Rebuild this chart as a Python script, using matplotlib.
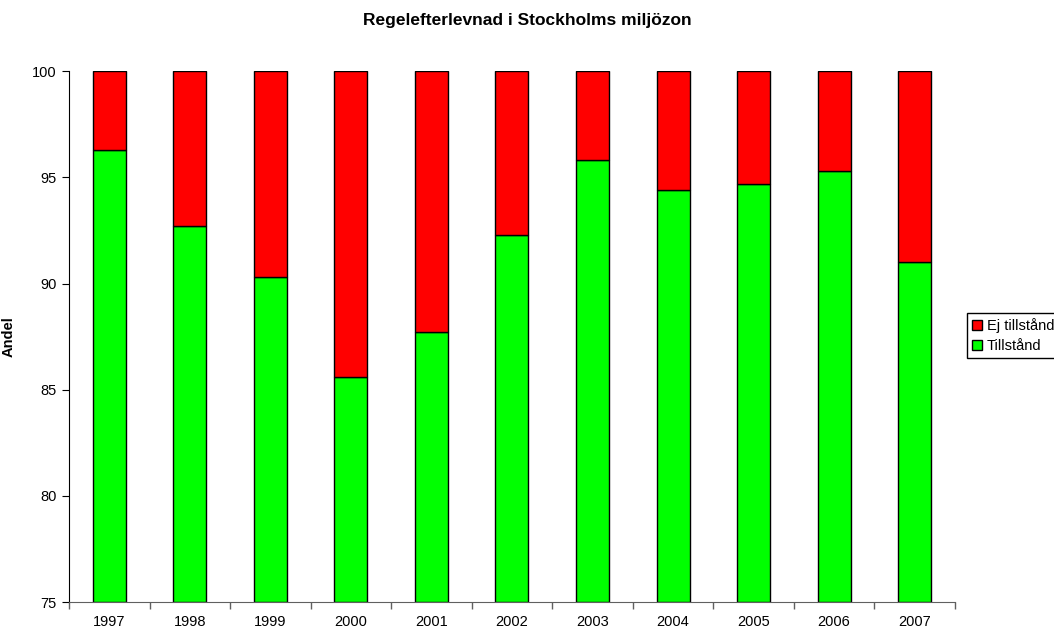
import numpy as np
import matplotlib.pyplot as plt

plt.rcParams['font.family'] = ['Liberation Sans', 'DejaVu Sans']

years = ['1997', '1998', '1999', '2000', '2001', '2002', '2003', '2004', '2005', '2006', '2007']
tillstand = [96.3, 92.7, 90.3, 85.6, 87.7, 92.3, 95.8, 94.4, 94.7, 95.3, 91.0]
ej_tillstand = [100 - v for v in tillstand]

base = 75
x = np.arange(len(years))
w = 0.41

fig = plt.figure(figsize=(10.54, 6.3), dpi=100)
ax = fig.add_axes([0.0655, 0.0444, 0.8405, 0.8426])

green = ax.bar(x, np.array(tillstand) - base, w, bottom=base, color='#00ff00',
               edgecolor='black', linewidth=1, label='Tillstånd')
red = ax.bar(x, ej_tillstand, w, bottom=tillstand, color='#ff0000',
             edgecolor='black', linewidth=1, label='Ej tillstånd')

ax.set_xlim(-0.5, len(years) - 0.5)
ax.set_ylim(75, 100)
ax.set_yticks([75, 80, 85, 90, 95, 100])
ax.set_xticks(x)
ax.set_xticklabels(years)
ax.set_xticks(np.arange(-0.5, len(years)), minor=True)
ax.tick_params(axis='x', which='major', length=0, pad=9, labelsize=10.5)
ax.tick_params(axis='x', which='minor', length=5, direction='out', width=1, color='#606060')
ax.tick_params(axis='y', length=5, direction='out', labelsize=10.5, pad=4)
ax.spines['top'].set_visible(False)
ax.spines['right'].set_visible(False)
ax.spines['bottom'].set_color('#606060')
ax.set_ylabel('Andel', fontsize=10.5, fontweight='bold')
ax.yaxis.set_label_coords(-0.06, 0.5)

fig.suptitle('Regelefterlevnad i Stockholms miljözon', fontsize=12.5, fontweight='bold',
             x=0.5, y=0.98)

leg = fig.legend([red, green], ['Ej tillstånd', 'Tillstånd'], loc='upper left',
                 bbox_to_anchor=(0.9175, 0.503), fontsize=10.5, fancybox=False,
                 edgecolor='black', framealpha=1, borderaxespad=0,
                 handlelength=0.7, handleheight=0.7, handletextpad=0.3,
                 labelspacing=0.4, borderpad=0.35)
leg.get_frame().set_linewidth(1)

fig.savefig('out.png', dpi=100)
